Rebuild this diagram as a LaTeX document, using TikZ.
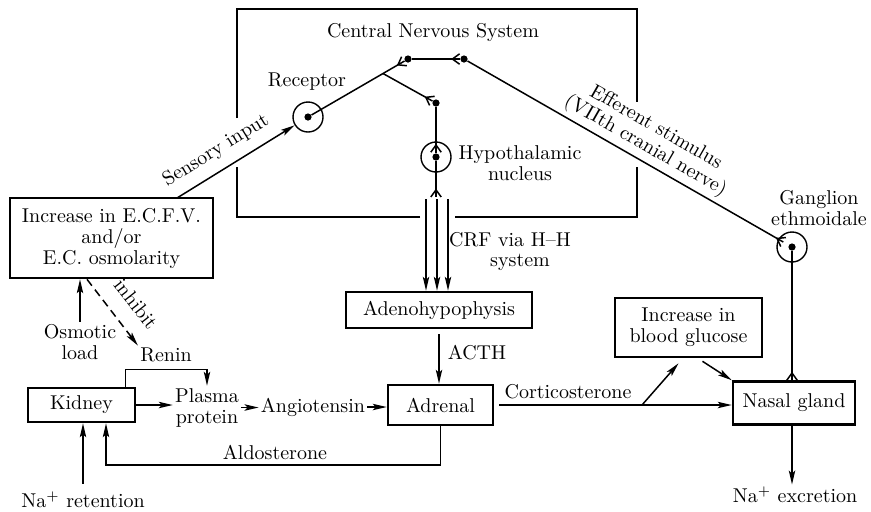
\documentclass[tikz,border=0pt]{standalone}
\usetikzlibrary{arrows.meta,calc}
\newcommand\synfork[2]{%
  \draw[wire] ($(#2)!2.6pt!90:(#1)$) -- ($(#2)!3.6pt!(#1)$) -- ($(#2)!2.6pt!-90:(#1)$);}
\begin{document}
\begin{tikzpicture}[x=0.5pt,y=-0.5pt,
  every node/.style={font=\fontsize{10}{10.5}\selectfont, inner sep=1pt},
  box/.style={draw, line width=1.3pt, align=center, inner sep=0pt},
  txt/.style={align=center},
  wire/.style={line width=0.75pt},
  arr/.style={wire, -{Stealth[length=7pt,width=3.2pt,inset=1.5pt]}},
  dot/.style={circle, fill, inner sep=0pt, minimum size=3.6pt},
  ring/.style={circle, draw, line width=0.7pt, inner sep=0pt, minimum size=15pt},
  cns/.style={line width=1.3pt}
]
\useasboundingbox (0,0) rectangle (871,511);

% CNS frame
\draw[cns] (237,118) -- (237,9) -- (637,9) -- (637,102);
\draw[cns] (637,167) -- (637,217) -- (455,217);
\draw[cns] (420,217) -- (237,217) -- (237,167);

% boxes
\node[box, minimum width=101.5pt, minimum height=40pt] (ecfv) at (111.5,238) {Increase in E.C.F.V.\\and/or\\E.C. osmolarity};
\node[box, minimum width=53.5pt, minimum height=17pt] (kidney) at (81.5,405) {Kidney};
\node[box, minimum width=93pt, minimum height=18pt] (adeno) at (439,310) {Adenohypophysis};
\node[box, minimum width=52.5pt, minimum height=20pt] (adrenal) at (440.5,405) {Adrenal};
\node[box, minimum width=73.5pt, minimum height=29.5pt] (gluc) at (688.5,327.5) {Increase in\\blood glucose};
\node[box, minimum width=61pt, minimum height=21.5pt] (nasal) at (794,403) {Nasal gland};

% texts
\node (cnst) at (433,32) {Central Nervous System};
\node (recl) at (307,82) {Receptor};
\node[txt] (hypl) at (520,163) {Hypothalamic\\nucleus};
\node (crf1) at (510,240) {CRF via H--H};
\node (crf2) at (520,262) {system};
\node (acth) at (477,353) {ACTH};
\node (cort) at (568,392) {Corticosterone};
\node (aldl) at (275,452) {Aldosterone};
\node[txt] (gangl) at (819,208) {Ganglion\\ethmoidale};
\node[txt] (osm) at (80,342) {Osmotic\\load};
\node (renin) at (166,355) {Renin};
\node[txt] (plasma) at (207,407.5) {Plasma\\protein};
\node (angio) at (313,407) {Angiotensin};
\node (naret) at (83,500) {Na$^+$ retention};
\node (naex) at (795,495) {Na$^+$ excretion};
\node[rotate=-52] (inh) at (136,304) {inhibit};

% neurons
\node[ring] (rec) at (308,117) {};
\node[dot] (recd) at (308,117) {};
\node[dot] (ld) at (408,59) {};
\node[dot] (rd) at (464,59) {};
\node[dot] (hd) at (436,103) {};
\node[ring] (hyp) at (436,157) {};
\node[dot] (hypd) at (436,157) {};
\node[ring] (gang) at (792,247) {};
\node[dot] (gangd) at (792,247) {};

\coordinate (s0) at (177,198);
\draw[arr] (s0) -- (rec) node[pos=0.42, sloped, above=4pt] {Sensory input};

\coordinate (br) at ($(recd)!0.75!(ld)$);
\coordinate (e1) at ($(ld)!2.2pt!(recd)$);
\coordinate (e2) at ($(rd)!2.2pt!(ld)$);
\coordinate (e3) at ($(hd)!2.2pt!(br)$);
\coordinate (e4) at ($(hypd)!2.4pt!(hd)$);
\coordinate (hypend) at (436,197);
\coordinate (e6) at ($(gangd)!5pt!(rd)$);
\coordinate (e7) at (gangd |- nasal.north);

\draw[wire] (recd) -- (ld);   \synfork{recd}{e1}
\draw[wire] (br) -- (hd);     \synfork{br}{e3}
\draw[wire] (ld) -- (rd);     \synfork{ld}{e2}
\draw[wire] (hd) -- (hypd);   \synfork{hd}{e4}
\draw[wire] (hypd) -- (hypend); \synfork{hypd}{hypend}
\draw[wire] (rd) -- (e6) node[pos=0.54, sloped, above=1pt, align=center] {Efferent stimulus\\(VIIth cranial nerve)};
\synfork{rd}{e6}
\draw[wire] (gangd) -- (e7);  \synfork{gangd}{e7}

\coordinate (c1) at (426,199);
\coordinate (c2) at (437,199);
\coordinate (c3) at (448,199);
\draw[arr] (c1) -- (c1 |- adeno.north);
\draw[arr] (c2) -- (c2 |- adeno.north);
\draw[arr] (c3) -- (c3 |- adeno.north);
\draw[arr] (gangd |- nasal.south) -- (gangd |- naex.north);

\draw[arr, shorten <=2.5pt] (adeno.south) -- (adeno.south |- adrenal.north);
\draw[arr, shorten <=2.5pt] (adrenal.east) -- (adrenal.east -| nasal.west);
\coordinate (cb) at (642,405);
\draw[arr] (cb) -- ($(gluc.south)+(-10,5)$);
\draw[arr] ($(gluc.south)+(14,3)$) -- (nasal.north west);
\coordinate (aldc) at (106,465);
\draw[arr] (adrenal.south) |- (aldc) -- (aldc |- kidney.south);
\draw[arr, shorten <=3pt] (naret.north) -- (naret.north |- kidney.south);
\draw[arr] (kidney.east) -- (kidney.east -| plasma.west);
\coordinate (kr) at ($(kidney.north east)+(-11,0)$);
\draw[arr] (kr) |- ($(plasma.north)+(0,-16)$) -- (plasma.north);
\draw[arr] (plasma.east) -- (plasma.east -| angio.west);
\draw[arr] (angio.east) -- (angio.east -| adrenal.west);
\draw[arr] (osm.north) -- (osm.north |- ecfv.south);
\draw[arr, dash pattern=on 4pt off 2.5pt] ($(ecfv.south)+(-24.5,0)$) -- (renin.north west);
\end{tikzpicture}
\end{document}
